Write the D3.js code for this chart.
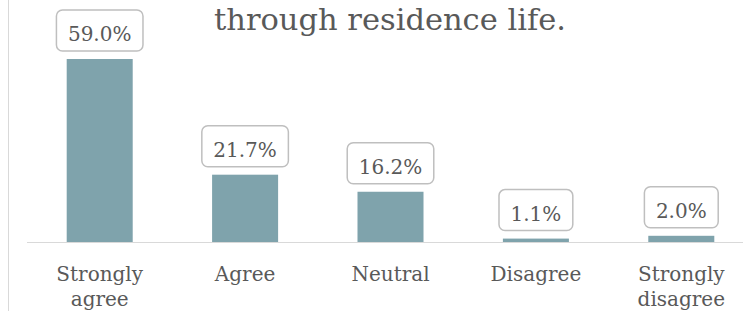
<!DOCTYPE html>
<html><head><meta charset="utf-8">
<script src="https://cdn.jsdelivr.net/npm/d3@7"></script>
<style>body{margin:0;background:#fff}svg{display:block}</style>
</head><body>
<script>
const categories = [["Strongly","agree"],["Agree"],["Neutral"],["Disagree"],["Strongly","disagree"]];
const values = [59.0, 21.7, 16.2, 1.1, 2.0];
const labels = ["59.0%","21.7%","16.2%","1.1%","2.0%"];
const titleText = "through residence life.";

const W = 743, H = 311;
const font = "'DejaVu Serif', serif";
const textColor = "#595959";
const svg = d3.select("body").append("svg").attr("width", W).attr("height", H);

const x = d3.scaleBand().domain(d3.range(values.length)).range([27, 754]).paddingInner(0.546).paddingOuter(0.273);
const baseY = 242;
const y = d3.scaleLinear().domain([0, 59]).range([baseY, 59]);

// left border line
svg.append("line").attr("x1", 8.5).attr("x2", 8.5).attr("y1", 0).attr("y2", H)
  .attr("stroke", "#d9d9d9").attr("stroke-width", 1);

// title
svg.append("text").attr("x", 390).attr("y", 30).attr("text-anchor", "middle")
  .attr("font-family", font).attr("font-size", 30.5).attr("fill", textColor).text(titleText);

// bars
svg.selectAll("rect.bar").data(values).join("rect").attr("class", "bar")
  .attr("x", (d, i) => x(i)).attr("width", x.bandwidth())
  .attr("y", d => y(d)).attr("height", d => baseY - y(d))
  .attr("fill", "#7fa3ac");

// axis line
const axis = d3.axisBottom(x).tickSize(0).tickFormat("");
const ax = svg.append("g").attr("transform", `translate(0,${baseY + 0.5})`).call(axis);
ax.select(".domain").attr("stroke", "#d9d9d9").attr("stroke-width", 1.2).attr("d", `M27,0H743`);

// category labels
const cat = svg.selectAll("text.cat").data(categories).join("text").attr("class", "cat")
  .attr("text-anchor", "middle").attr("font-family", font).attr("font-size", 20).attr("fill", textColor);
cat.each(function(lines, i) {
  const t = d3.select(this);
  lines.forEach((l, j) => {
    t.append("tspan").attr("x", x(i) + x.bandwidth() / 2).attr("y", 281 + j * 25).text(l);
  });
});

// data labels with boxes
const g = svg.selectAll("g.lab").data(values).join("g").attr("class", "lab");
g.each(function(d, i) {
  const gg = d3.select(this);
  const cx = x(i) + x.bandwidth() / 2;
  const bottom = y(d) - 8;
  const rect = gg.append("rect");
  const t = gg.append("text").attr("x", cx).attr("y", bottom - 10).attr("text-anchor", "middle")
    .attr("font-family", font).attr("font-size", 20).attr("fill", textColor).text(labels[i]);
  const tw = t.node().getComputedTextLength();
  const bw = tw + 23;
  rect.attr("x", cx - bw / 2).attr("y", bottom - 41).attr("width", bw).attr("height", 41)
    .attr("rx", 6).attr("fill", "#fff").attr("stroke", "#bfbfbf").attr("stroke-width", 1.5);
});
</script>
</body></html>
